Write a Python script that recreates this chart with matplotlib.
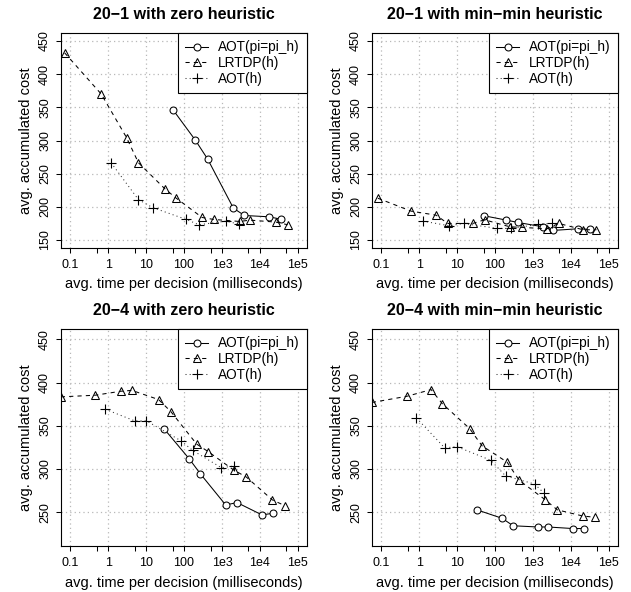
import numpy as np
import matplotlib
matplotlib.use("Agg")
import matplotlib.pyplot as plt

plt.rcParams['font.family'] = ['Liberation Sans', 'DejaVu Sans']

titles = ["20\u22121 with zero heuristic", "20\u22121 with min\u2212min heuristic",
          "20\u22124 with zero heuristic", "20\u22124 with min\u2212min heuristic"]
series_names = ["AOT(pi=pi_h)", "LRTDP(h)", "AOT(h)"]

# 20-1 zero heuristic
p1_aot_pi_x = [51, 199, 420, 2000, 3900, 17500, 35000]
p1_aot_pi_y = [346.5, 300.5, 272, 198, 187, 185, 181.5]
p1_lrtdp_x = [0.072, 0.66, 3.06, 6.3, 31.6, 61, 300, 610, 2900, 5500, 26500, 54000]
p1_lrtdp_y = [432, 370, 304.5, 266.5, 227, 213.5, 184, 181, 178, 180, 177, 173]
p1_aot_h_x = [1.2, 6.3, 14.8, 115, 248, 1260, 2830]
p1_aot_h_y = [266.5, 211, 199, 181, 173, 178.5, 174]

# 20-1 min-min heuristic
p2_aot_pi_x = [52, 200, 400, 1800, 3400, 15500, 31000]
p2_aot_pi_y = [186.5, 180, 176.5, 170, 164.5, 167, 166]
p2_lrtdp_x = [0.082, 0.62, 2.8, 5.7, 26, 53, 245, 520, 2300, 4800, 21000, 47000]
p2_lrtdp_y = [213, 193.5, 187.5, 175, 175, 180.5, 170, 169, 167, 175, 165.5, 165.5]
p2_aot_h_x = [1.25, 6.3, 14.8, 115, 260, 1360, 3200]
p2_aot_h_y = [178.5, 171.5, 175, 167.5, 167.5, 173.5, 175]

# 20-4 zero heuristic
p3_aot_pi_x = [30, 138, 272, 1250, 2500, 11300, 22000]
p3_aot_pi_y = [346.5, 311.7, 294.3, 258.5, 261.2, 247, 248.8]
p3_lrtdp_x = [0.057, 0.457, 2.17, 4.24, 21.4, 45, 215, 440, 2020, 4400, 21300, 45000]
p3_lrtdp_y = [383.5, 385.4, 390, 391, 380.4, 366.5, 328.9, 320, 299, 290.7, 264.3, 257.7]
p3_aot_h_x = [0.84, 4.98, 10.2, 83, 170, 970, 2020]
p3_aot_h_y = [369.2, 355.8, 355.8, 332.7, 321.5, 301.5, 303.5]

# 20-4 min-min heuristic
p4_aot_pi_x = [34, 155, 300, 1350, 2470, 11200, 21500]
p4_aot_pi_y = [252.7, 243, 234.4, 233, 233, 231.2, 231.2]
p4_lrtdp_x = [0.057, 0.48, 2.08, 4.05, 21.4, 45.5, 208, 435, 2090, 4380, 21000, 42000]
p4_lrtdp_y = [377, 384.2, 391.9, 375.8, 346.9, 326.9, 308, 286.9, 264.6, 252.8, 245.6, 244.3]
p4_aot_h_x = [0.85, 4.7, 10, 77, 190, 1100, 1920]
p4_aot_h_y = [359.2, 324.6, 325.8, 310.2, 292.1, 282.7, 272.5]

panels = [
    (p1_aot_pi_x, p1_aot_pi_y, p1_lrtdp_x, p1_lrtdp_y, p1_aot_h_x, p1_aot_h_y),
    (p2_aot_pi_x, p2_aot_pi_y, p2_lrtdp_x, p2_lrtdp_y, p2_aot_h_x, p2_aot_h_y),
    (p3_aot_pi_x, p3_aot_pi_y, p3_lrtdp_x, p3_lrtdp_y, p3_aot_h_x, p3_aot_h_y),
    (p4_aot_pi_x, p4_aot_pi_y, p4_lrtdp_x, p4_lrtdp_y, p4_aot_h_x, p4_aot_h_y),
]

xticks = [0.1, 1, 10, 100, 1e3, 1e4, 1e5]
xticklabels = ["0.1", "1", "10", "100", "1e3", "1e4", "1e5"]
xminor = [0.5, 5, 50, 500, 5e3, 5e4]
yticks_top = [150, 200, 250, 300, 350, 400, 450]
yticks_bot = [250, 300, 350, 400, 450]

W, H = 631, 592
fig = plt.figure(figsize=(W / 100, H / 100), dpi=100)

# axes boxes in pixels: left, top, right, bottom
boxes = [(61, 33, 307, 248), (372, 33, 618, 248),
         (61, 329, 307, 546), (372, 329, 618, 546)]

for i, (box, data) in enumerate(zip(boxes, panels)):
    l, t, r, b = box
    ax = fig.add_axes([l / W, 1 - b / H, (r - l) / W, (b - t) / H])
    ax.set_xscale('log')
    ax.set_xlim(10 ** -1.24, 10 ** 5.24)
    if i < 2:
        ax.set_ylim(138, 462)
        yt = yticks_top
    else:
        ax.set_ylim(211, 462)
        yt = yticks_bot

    # grid like R grid()
    for xv in xticks:
        ax.axvline(xv, color='#b8b8b8', lw=0.9, ls=(0, (1, 2.5)), zorder=0)
    for yv in yt:
        ax.axhline(yv, color='#b8b8b8', lw=0.9, ls=(0, (1, 2.5)), zorder=0)

    ax.plot(data[0], data[1], color='black', lw=0.75, ls='-', marker='o',
            ms=5, mfc='white', mew=0.75, label=series_names[0])
    ax.plot(data[2], data[3], color='black', lw=0.75, ls=(0, (4, 4)), marker='^',
            ms=6, mfc='none', mew=0.75, label=series_names[1])
    ax.plot(data[4], data[5], color='#333333', lw=0.75, ls=(0, (1, 3)), marker='+',
            ms=7.5, mew=0.8, mec='black', label=series_names[2])

    ax.set_xticks(xticks)
    ax.set_xticklabels(xticklabels)
    ax.set_xticks(xminor, minor=True)
    ax.xaxis.set_minor_formatter(matplotlib.ticker.NullFormatter())
    ax.set_yticks(yt)
    ax.set_yticklabels([str(v) for v in yt], rotation=90, va='center')
    ax.tick_params(axis='both', which='both', direction='out', length=3.6,
                   width=0.75, labelsize=9, pad=4)
    ax.tick_params(axis='y', pad=3.5)

    for s in ax.spines.values():
        s.set_linewidth(0.8)

    ax.set_title(titles[i], fontsize=11.5, fontweight='bold', pad=10)
    ax.set_xlabel('avg. time per decision (milliseconds)', fontsize=10.5, labelpad=5)
    ax.set_ylabel('avg. accumulated cost', fontsize=10.5, labelpad=4.5)

    leg = ax.legend(loc='upper right', fontsize=9.8, frameon=True, fancybox=False,
                    edgecolor='black', framealpha=1, borderaxespad=0,
                    handlelength=1.7, handletextpad=0.7, labelspacing=0.12,
                    borderpad=0.55)
    leg.get_frame().set_linewidth(0.8)

plt.savefig('out.png', dpi=100)
